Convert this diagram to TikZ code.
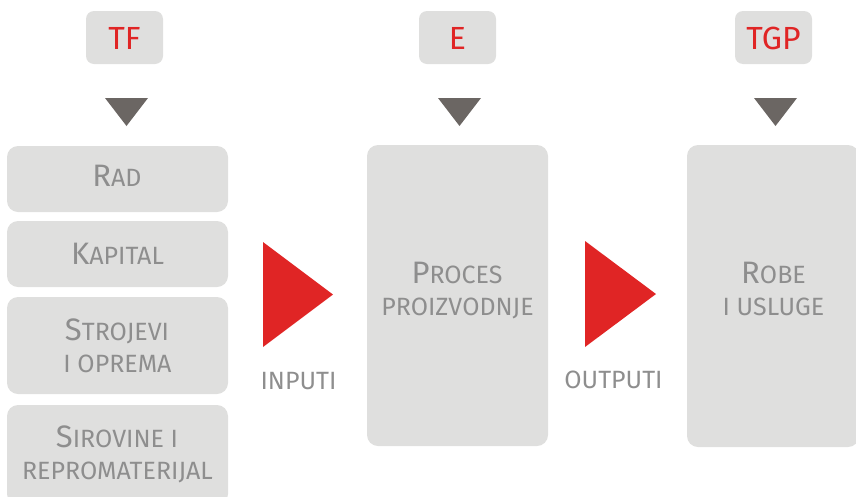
\documentclass[tikz,border=0pt]{standalone}
\usepackage{fontspec}
\setmainfont{Fira Sans}
\definecolor{boxfill}{HTML}{DFDFDE}
\definecolor{txtgray}{HTML}{8E8E8E}
\definecolor{accent}{HTML}{E02525}
\definecolor{pointer}{HTML}{6B6663}
% two-size small capitals: initial letter large, the rest at text size
\newcommand{\capL}[1]{{\fontsize{31}{33}\selectfont #1}}
\tikzset{
  card/.style={fill=boxfill, rounded corners=11pt, inner sep=0pt},
  cardtext/.style={text=txtgray, inner sep=0pt, anchor=base,
    font=\fontsize{25}{30}\selectfont},
  tag/.style={fill=boxfill, rounded corners=8pt, inner sep=0pt,
    minimum width=77pt, minimum height=53pt},
  tagtext/.style={text=accent, inner sep=0pt, anchor=base,
    font=\fontsize{32}{34}\selectfont},
}
\begin{document}
\begin{tikzpicture}[x=1pt,y=-1pt]
\useasboundingbox (0,0) rectangle (856,496);
\clip (0,0) rectangle (856,496);

% top labels
\node[tag] (tf)  at (124.5,37.5) {};
\node[tag] (e)   at (457.5,37.5) {};
\node[tag] (tgp) at (773.5,37.5) {};
\node[tagtext] (tft)  at (124.5,49) {TF};
\node[tagtext] (et)   at (457.5,49) {E};
\node[tagtext] (tgpt) at (773.5,49) {TGP};

% downward pointers
\fill[pointer] (105,98) -- (148,98) -- (126.5,126) -- cycle;
\fill[pointer] (438,98) -- (481,98) -- (459.5,126) -- cycle;
\fill[pointer] (754,98) -- (797,98) -- (775.5,126) -- cycle;

% input factors
\node[card, minimum width=221pt, minimum height=66pt] (rad) at (117.5,179) {};
\node[card, minimum width=221pt, minimum height=66pt] (kap) at (117.5,254) {};
\node[card, minimum width=221pt, minimum height=97pt] (stroj) at (117.5,345.5) {};
\node[card, minimum width=221pt, minimum height=100pt] (sirov) at (117.5,455) {};
\node[cardtext] (radt) at (117,186) {\capL{R}AD};
\node[cardtext] (kapt) at (117.5,264) {\capL{K}APITAL};
\node[cardtext] (stroja) at (117,340) {\capL{S}TROJEVI};
\node[cardtext] (strojb) at (117.5,372) {I OPREMA};
\node[cardtext] (sirova) at (117,447) {\capL{S}IROVINE I};
\node[cardtext] (sirovb) at (117.5,479) {REPROMATERIJAL};

% production process
\node[card, minimum width=181pt, minimum height=301pt] (proc) at (457.5,295.5) {};
\node[cardtext] (proca) at (457,283) {\capL{P}ROCES};
\node[cardtext] (procb) at (457.5,315) {PROIZVODNJE};

% goods and services
\node[card, minimum width=172pt, minimum height=302pt] (robe) at (773,296) {};
\node[cardtext] (robea) at (773.5,283) {\capL{R}OBE};
\node[cardtext] (robeb) at (773.5,315) {I USLUGE};

% flow pointers
\fill[accent] (263,242) -- (263,347) -- (333,294.5) -- cycle;
\fill[accent] (585,241) -- (585,347) -- (656,294) -- cycle;

\node[cardtext] (inp) at (298.5,389) {INPUTI};
\node[cardtext] (outp) at (613.5,388) {OUTPUTI};
\end{tikzpicture}
\end{document}
